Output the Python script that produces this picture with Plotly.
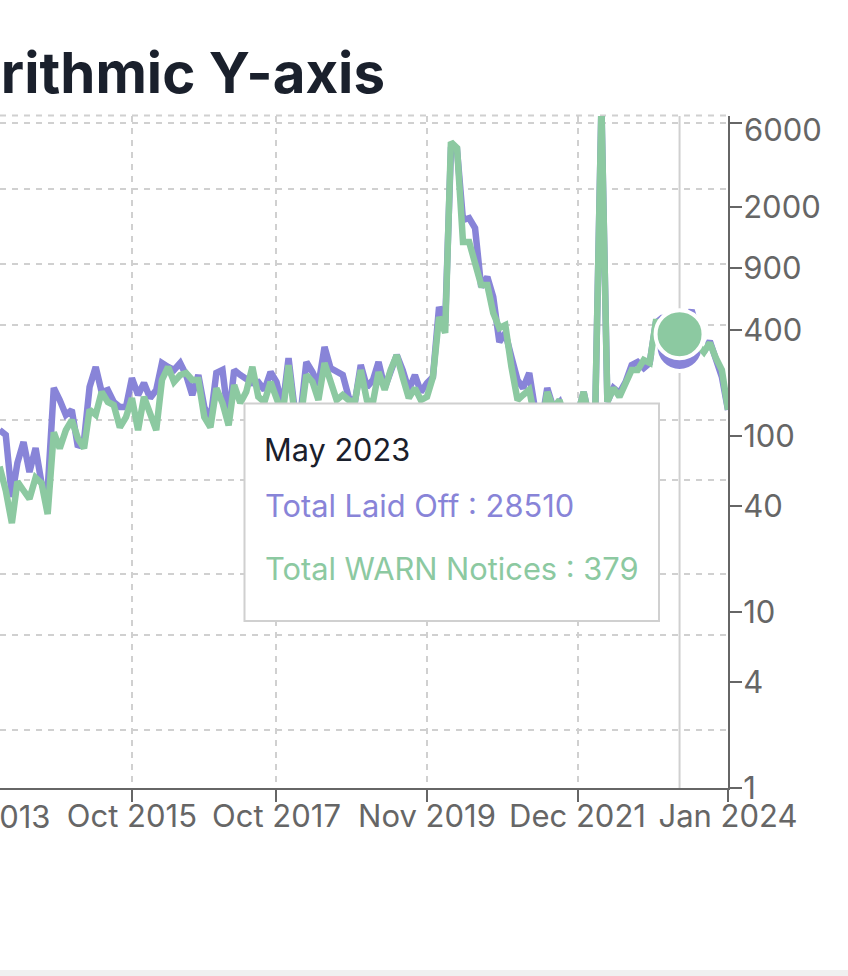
import pandas as pd
import plotly.graph_objects as go

months = pd.date_range("2013-12-01", periods=122, freq="MS")

total_laid_off = [
    4130, 3680, 870, 1920, 3125, 1556, 2717, 1205, 1023, 10970,
    8300, 5860, 6580, 2780, 3275, 11240, 17900, 10000, 10480, 7925,
    7050, 7050, 13840, 9330, 12330, 8700, 10480, 19630, 17900, 16680,
    19630, 14860, 9330, 14860, 7050, 5210, 15560, 16680, 5210, 16680,
    14860, 13840, 12330, 12620, 10480, 15920, 12620, 7050, 22030, 6580,
    6280, 20090, 15920, 11770, 28500, 17480, 15920, 14860, 8900, 7745,
    18750, 11240, 13220, 20090, 10970, 15920, 23650, 16680, 10480, 14860,
    10000, 12330, 14180, 72230, 49800, 2780000, 2780000, 546000, 572000, 453000,
    115000, 145000, 91100, 32000, 39400, 22590, 13220, 10970, 15560, 6580,
    4640, 10970, 6895, 7925, 5210, 4640, 5860, 10000, 5210, 6580,
    7900000, 7925, 10970, 9770, 12620, 18750, 20090, 17480, 19630, 49800,
    55900, 55900, 53400, 28510, 47500, 67300, 42300, 25350, 32700, 21040,
    14180, 6580,
]
total_warn_notices = [
    67, 49, 32, 55, 49, 44, 58, 54, 36, 105,
    85, 108, 123, 97, 85, 141, 132, 178, 156, 150,
    112, 128, 164, 108, 167, 135, 108, 208, 247, 203,
    222, 228, 208, 208, 128, 112, 187, 154, 115, 195,
    154, 178, 247, 167, 156, 203, 164, 132, 253, 132,
    127, 222, 203, 160, 260, 200, 160, 171, 160, 156,
    237, 160, 156, 231, 183, 237, 288, 216, 164, 187,
    160, 167, 216, 474, 385, 4680, 4330, 1266, 1266, 961,
    721, 721, 500, 411, 427, 247, 160, 171, 183, 123,
    108, 178, 144, 160, 123, 115, 132, 178, 123, 141,
    7600, 156, 187, 167, 203, 237, 237, 270, 260, 444,
    444, 427, 411, 379, 375, 400, 329, 300, 338, 277,
    237, 141,
]

x_tick_dates = ["2015-10-01", "2017-10-01", "2019-11-01", "2021-12-01", "2024-01-01"]
x_tick_labels = ["Oct 2015", "Oct 2017", "Nov 2019", "Dec 2021", "Jan 2024"]
right_ticks = [1, 4, 10, 40, 100, 400, 900, 2000, 6000]
right_tick_labels = ["1", "4", "10", "40", "100", "400", "900", "2000", ""]
left_grid_values = [3.85, 35, 145, 1292, 5210, 47500, 196000, 1120000, 5200000]

LEFT_LOG_RANGE = [0, 6.788]
RIGHT_LOG_RANGE = [0, 3.818]
X_RANGE = ["2013-12-03", "2024-01-01"]

ACTIVE = 113
PURPLE = "#8884d8"
GREEN = "#8cc9a1"
TEXT = "#1a202c"
AXIS = "#666666"
GRID = "#d0d0d0"
FONT = "Inter, Roboto, sans-serif"
TICK_SIZE = 31

W, H = 848, 976
L, R, T, B = 0, 120, 116, 188
PW, PH = W - L - R, H - T - B


def px(x):
    return (x - L) / PW


def py(y):
    return (H - B - y) / PH


fig = go.Figure()
fig.add_trace(go.Scatter(x=months, y=total_laid_off, mode="lines", yaxis="y",
                         line=dict(color=PURPLE, width=6.5), hoverinfo="skip"))
fig.add_trace(go.Scatter(x=[months[ACTIVE]], y=[total_laid_off[ACTIVE]], mode="markers", yaxis="y",
                         marker=dict(color=PURPLE, size=48, line=dict(color="white", width=4)),
                         hoverinfo="skip"))
fig.add_trace(go.Scatter(x=months, y=total_warn_notices, mode="lines", yaxis="y2",
                         line=dict(color=GREEN, width=6.5), hoverinfo="skip"))
fig.add_trace(go.Scatter(x=[months[ACTIVE]], y=[total_warn_notices[ACTIVE]], mode="markers", yaxis="y2",
                         marker=dict(color=GREEN, size=48, line=dict(color="white", width=4)),
                         hoverinfo="skip"))

shapes = [
    dict(type="line", layer="below", xref="paper", yref="paper", x0=0, x1=1, y0=py(115.5), y1=py(115.5),
         line=dict(color=GRID, width=2, dash="6px,6px")),
    dict(type="line", layer="below", xref="x", yref="paper", x0=months[ACTIVE], x1=months[ACTIVE],
         y0=0, y1=1, line=dict(color=GRID, width=2)),
    dict(type="rect", layer="above", xref="paper", yref="paper", x0=px(244.5), x1=px(659), y0=py(403.5), y1=py(621),
         fillcolor="white", line=dict(color=GRID, width=2)),
    dict(type="rect", layer="above", xref="paper", yref="paper", x0=0, x1=px(848), y0=py(970), y1=py(976),
         fillcolor="#f0f0f0", line=dict(width=0)),
]


def note(text, x, y, size, color, anchor="left", weight=None):
    return dict(text=text, xref="paper", yref="paper", x=px(x), y=py(y), xanchor=anchor, yanchor="middle",
                showarrow=False, font=dict(family=FONT, size=size, color=color, weight=weight))


annotations = [
    note("Logarithmic Y-axis", 387, 73, 56.4, TEXT, "right", 700),
    note("Oct 2013", 53, 816, TICK_SIZE, AXIS, "right"),
    note("6000", 742, 129, TICK_SIZE, AXIS),
    note("May 2023", 262, 449, 30.7, TEXT),
    note("Total Laid Off : 28510", 263, 505, 30.8, PURPLE),
    note("Total WARN Notices : 379", 263, 568, 30.8, GREEN),
]

fig.update_layout(
    width=W, height=H, margin=dict(l=L, r=R, t=T, b=B, pad=0),
    plot_bgcolor="white", paper_bgcolor="white", showlegend=False,
    font=dict(family=FONT, color=AXIS, size=TICK_SIZE),
    shapes=shapes, annotations=annotations,
    xaxis=dict(type="date", range=X_RANGE, tickmode="array", tickvals=x_tick_dates, ticktext=x_tick_labels,
               tickangle=0, ticks="outside", ticklen=12, tickwidth=2, tickcolor=AXIS,
               ticklabelstandoff=-12,
               showline=True, linecolor=AXIS, linewidth=2,
               showgrid=True, gridcolor=GRID, gridwidth=2, griddash="6px,6px", zeroline=False,
               tickfont=dict(family=FONT, size=TICK_SIZE, color=AXIS)),
    yaxis=dict(type="log", range=LEFT_LOG_RANGE, tickmode="array", tickvals=left_grid_values,
               showticklabels=False, ticks="", showline=False, zeroline=False,
               showgrid=True, gridcolor=GRID, gridwidth=2, griddash="6px,6px"),
    yaxis2=dict(type="log", range=RIGHT_LOG_RANGE, overlaying="y", side="right", anchor="x",
                tickmode="array", tickvals=right_ticks, ticktext=right_tick_labels,
                ticks="outside", ticklen=12, tickwidth=2, tickcolor=AXIS,
                ticklabelstandoff=-5,
                showline=True, linecolor=AXIS, linewidth=2, showgrid=False, zeroline=False,
                tickfont=dict(family=FONT, size=TICK_SIZE, color=AXIS)),
)

fig.write_html("out.html", config={"displayModeBar": False}, post_script="document.body.style.margin='0';")
